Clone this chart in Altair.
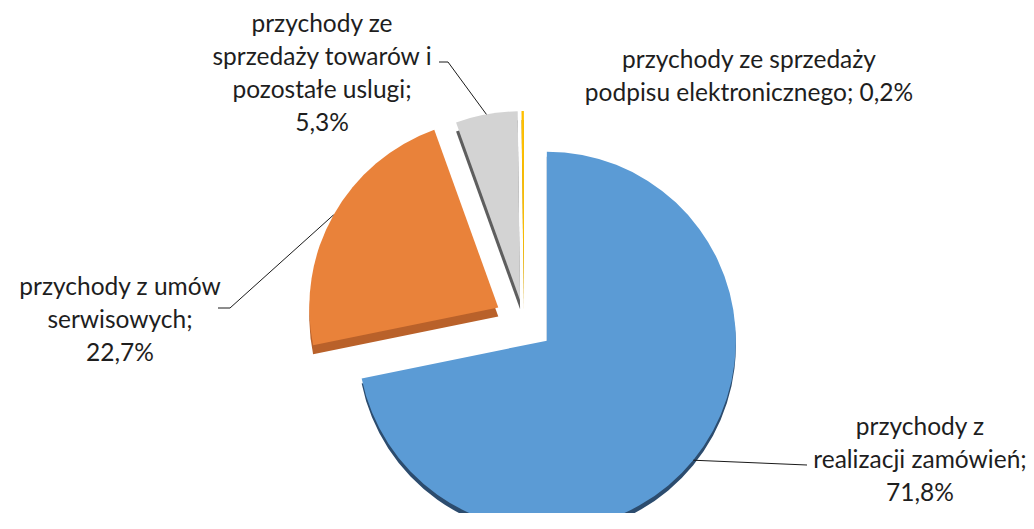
import math
import altair as alt
import pandas as pd

# ---- data ----
categories = [
    "przychody z realizacji zamówień",
    "przychody z umów serwisowych",
    "przychody ze sprzedaży towarów i pozostałe uslugi",
    "przychody ze sprzedaży podpisu elektronicznego",
]
shares = [71.8, 22.7, 5.3, 0.2]
name_lines = [
    ["przychody z", "realizacji zamówień;"],
    ["przychody z umów", "serwisowych;"],
    ["przychody ze", "sprzedaży towarów i", "pozostałe uslugi;"],
    ["przychody ze sprzedaży", "podpisu elektronicznego;"],
]
value_on_same_line = [False, False, False, True]

# ---- style / layout ----
colors = ["#5b9bd5", "#e9823a", "#d3d3d3", "#ffc000"]
dark_colors = ["#2c4c6e", "#b9612a", "#5e5e5e", "#c49400"]
W, H, M = 1018, 505, 8
CX, CY, R = 524, 322, 189
EXPLODE = [29.5, 29.5, 22, 22]
DEPTH_FRONT = 5   # depth visible under the big slice
DEPTH_BACK = 9    # depth of the exploded back slices
label_pos = [(920, 428), (120, 288), (322, 25), (749, 61)]  # x centre, first line y
leader_tail = [[(807, 465)], [(230, 308), (218, 308)], [(448, 62), (439, 62)], []]

# ---- build tables ----
rows, text_rows, line_rows = [], [], []
cum = 0.0
for i, (cat, v) in enumerate(zip(categories, shares)):
    start, end = cum, cum + v
    cum = end
    mid = (start + end) / 2 * 2 * math.pi / 100
    cx = CX + EXPLODE[i] * math.sin(mid)
    cy = CY - EXPLODE[i] * math.cos(mid)
    rows.append(dict(cat=cat, idx=i, start=start, end=end, cx=cx, cy=cy))
    val = f"{v:.1f}".replace(".", ",") + "%"
    lines = list(name_lines[i])
    if value_on_same_line[i]:
        lines[-1] = lines[-1] + " " + val
    else:
        lines.append(val)
    text_rows.append(dict(cat=cat, lines=lines, x=label_pos[i][0], y=label_pos[i][1]))
    if leader_tail[i]:
        p0 = (cx + R * math.sin(mid), cy - R * math.cos(mid))
        for k, p in enumerate([p0] + leader_tail[i]):
            line_rows.append(dict(cat=cat, k=k, x=p[0], y=p[1]))

df = pd.DataFrame(rows)
tdf = pd.DataFrame(text_rows)
ldf = pd.DataFrame(line_rows)

xs = alt.Scale(domain=[M, M + W], range=[0, W], zero=False, nice=False)
ys = alt.Scale(domain=[M, M + H], range=[0, H], zero=False, nice=False)
ts = alt.Scale(domain=[0, 100], range=[0, 2 * math.pi])

X = alt.X("cx:Q", scale=xs, axis=None)
Y = alt.Y("cy:Q", scale=ys, axis=None)
TH = alt.Theta("start:Q", scale=ts, stack=None)
dark = alt.Color("cat:N", scale=alt.Scale(domain=categories, range=dark_colors), legend=None)

depth_front = alt.Chart(df).transform_filter("datum.idx == 0").mark_arc(
    radius=R, yOffset=DEPTH_FRONT
).encode(x=X, y=Y, theta=TH, theta2="end:Q", color=dark)
depth_back = alt.Chart(df).transform_filter("datum.idx > 0").mark_arc(
    radius=R, yOffset=DEPTH_BACK
).encode(x=X, y=Y, theta=TH, theta2="end:Q", color=dark)
faces = alt.Chart(df).mark_arc(radius=R).encode(
    x=X, y=Y, theta=TH, theta2="end:Q",
    color=alt.Color("cat:N", scale=alt.Scale(domain=categories, range=colors), legend=None),
)
pie = alt.layer(depth_front, depth_back, faces).resolve_scale(color="independent")

leaders = alt.Chart(ldf).mark_line(color="#1a1a1a", strokeWidth=1).encode(
    x=alt.X("x:Q", scale=xs, axis=None),
    y=alt.Y("y:Q", scale=ys, axis=None),
    detail="cat:N",
    order="k:Q",
)
labels = alt.Chart(tdf).mark_text(
    font="Lato", fontSize=24.5, lineHeight=33, align="center", baseline="middle", color="#1e1e1e"
).encode(
    x=alt.X("x:Q", scale=xs, axis=None),
    y=alt.Y("y:Q", scale=ys, axis=None),
    text="lines",
)

chart = alt.layer(pie, leaders, labels).properties(
    width=W, height=H, autosize=alt.AutoSizeParams(type="none"), padding=0, background="white"
).configure_view(stroke=None)

chart.save("out.html", embed_options={"renderer": "svg", "actions": False})
